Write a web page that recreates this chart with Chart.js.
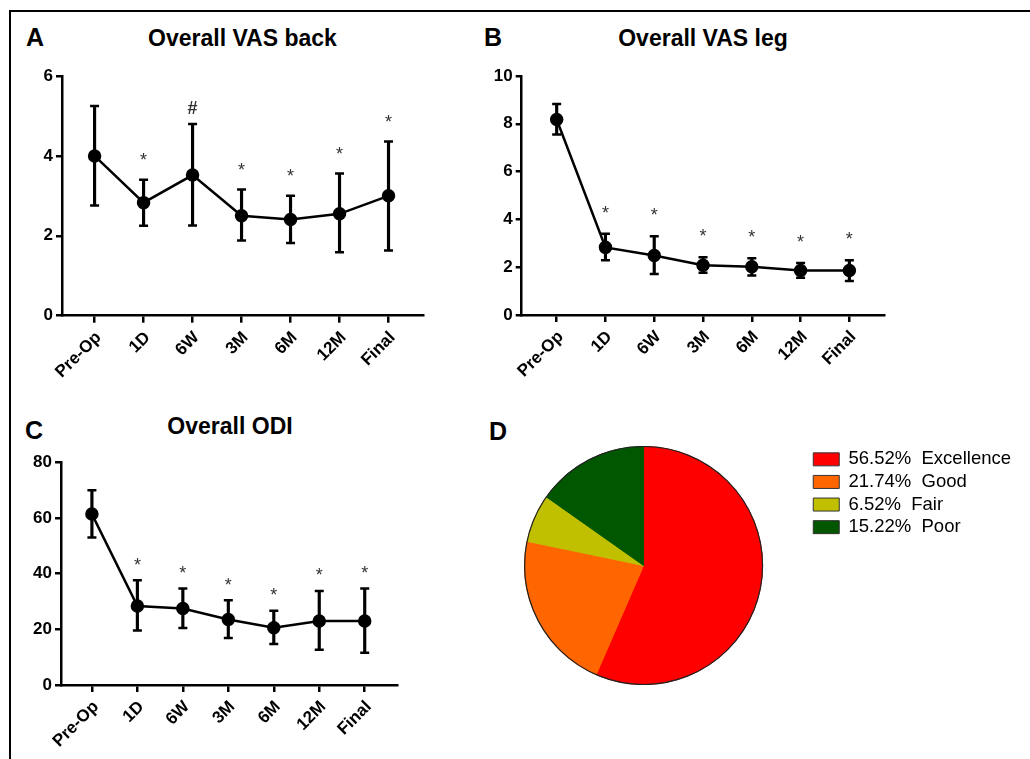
<!DOCTYPE html>
<html>
<head>
<meta charset="utf-8">
<script src="https://cdn.jsdelivr.net/npm/chart.js@4.4.1/dist/chart.umd.min.js"></script>
<style>
    body { margin: 0; width: 1030px; height: 759px; overflow: hidden; background: #fff; position: relative;
           font-family: 'Liberation Sans', Arial, sans-serif; }
    .frame { position: absolute; left: 9px; top: 10px; width: 1100px; height: 800px;
             border-top: 2px solid #000; border-left: 2px solid #000; }
    .txt { position: absolute; font-weight: bold; line-height: 1; white-space: nowrap; color: #000; }
    .letter { font-size: 25px; }
    .title { font-size: 23px; width: 300px; text-align: center; }
    .panel { position: absolute; }
</style>
</head>
<body>
<div class="frame"></div>

<div class="txt letter" style="left:26px; top:24.8px;">A</div>
<div class="txt title" style="left:92.5px; top:26.5px;">Overall VAS back</div>
<div class="txt letter" style="left:484px; top:24.8px;">B</div>
<div class="txt title" style="left:553px; top:26.5px;">Overall VAS leg</div>
<div class="txt letter" style="left:25px; top:418.3px;">C</div>
<div class="txt title" style="left:80px; top:415px;">Overall ODI</div>
<div class="txt letter" style="left:489px; top:419.3px;">D</div>

<canvas id="chartA" class="panel" width="440" height="340" style="left:0px; top:50px;"></canvas>
<canvas id="chartB" class="panel" width="440" height="340" style="left:460px; top:50px;"></canvas>
<canvas id="chartC" class="panel" width="420" height="319" style="left:0px; top:440px;"></canvas>
<canvas id="chartD" class="panel" width="543" height="239" style="left:478px; top:446px;"></canvas>

<script>
Chart.defaults.font.family = "'Liberation Sans', Arial, sans-serif";
Chart.defaults.color = '#000';
Chart.defaults.animation = false;

const timepoints = ['Pre-Op', '1D', '6W', '3M', '6M', '12M', 'Final'];

// A - VAS back (mean and error bar ends)
const vasBackMean  = [4.00, 2.83, 3.52, 2.50, 2.41, 2.55, 3.00];
const vasBackUpper = [5.25, 3.40, 4.80, 3.16, 3.00, 3.56, 4.36];
const vasBackLower = [2.76, 2.25, 2.26, 1.88, 1.82, 1.59, 1.63];
const vasBackMarks = ['', '*', '#', '*', '*', '*', '*'];
const vasBackTicks = [0, 2, 4, 6];

// B - VAS leg
const vasLegMean  = [8.18, 2.83, 2.49, 2.08, 2.02, 1.86, 1.86];
const vasLegUpper = [8.83, 3.40, 3.30, 2.42, 2.37, 2.18, 2.29];
const vasLegLower = [7.55, 2.29, 1.72, 1.77, 1.65, 1.56, 1.42];
const vasLegMarks = ['', '*', '*', '*', '*', '*', '*'];
const vasLegTicks = [0, 2, 4, 6, 8, 10];

// C - ODI
const odiMean  = [61.4, 28.4, 27.5, 23.5, 20.6, 23.0, 23.0];
const odiUpper = [70.0, 37.6, 34.7, 30.4, 26.7, 33.8, 34.7];
const odiLower = [53.0, 19.6, 20.5, 16.9, 14.7, 12.7, 11.6];
const odiMarks = ['', '*', '*', '*', '*', '*', '*'];
const odiTicks = [0, 20, 40, 60, 80];

// D - outcome
const outcomeLabels = ['Excellence', 'Good', 'Fair', 'Poor'];
const outcomeShares = [56.52, 21.74, 6.52, 15.22];
const outcomeColors = ['#ff0000', '#ff6600', '#c0c000', '#005700'];

// draws the * and # above the top of each error bar
const markPlugin = {
    id: 'marks',
    afterDatasetsDraw: function (chart, args, opts) {
        var ctx = chart.ctx, xs = chart.scales.x, ys = chart.scales.y;
        ctx.save();
        ctx.textAlign = 'center';
        ctx.fillStyle = '#333';
        opts.symbols.forEach(function (s, i) {
            if (!s) return;
            var cx = xs.getPixelForValue(i);
            var top = ys.getPixelForValue(opts.upper[i]);
            if (s === '#') {
                ctx.font = "bold 18px 'Liberation Sans', Arial";
                ctx.fillText(s, cx, top - opts.hashGap + 6.3);
            } else {
                ctx.font = "18px 'Liberation Sans', Arial";
                ctx.fillText(s, cx, top - opts.gap + 10.3);
            }
        });
        ctx.restore();
    }
};

function points(values) {
    return values.map(function (v, i) { return {x: i, y: v}; });
}

function errorChart(id, mean, lower, upper, marks, ticks, o) {
    var ctx = document.getElementById(id).getContext('2d');
    return new Chart(ctx, {
        type: 'line',
        data: {
            datasets: [{
                type: 'line',
                data: points(mean),
                borderColor: '#000',
                borderWidth: 2.5,
                pointRadius: 5.5,
                pointBackgroundColor: '#000',
                pointBorderColor: '#000',
                tension: 0,
                order: 0
            }, {
                // vertical part of the error bars
                type: 'bar',
                data: lower.map(function (v, i) { return {x: i, y: [v, upper[i]]}; }),
                backgroundColor: '#000',
                borderWidth: 0,
                barThickness: 2.5,
                grouped: false,
                order: 2
            }, {
                // caps
                type: 'line',
                data: points(lower).concat(points(upper)),
                showLine: false,
                pointStyle: 'line',
                pointRadius: 4.5,
                pointBorderWidth: 2.5,
                pointBorderColor: '#000',
                order: 1
            }]
        },
        options: {
            responsive: false,
            events: [],
            layout: { padding: o.padding },
            scales: {
                x: {
                    type: 'linear',
                    offset: false,
                    min: o.xMin,
                    max: o.xMax,
                    afterFit: function (scale) { scale.height = o.xHeight; },
                    afterBuildTicks: function (scale) {
                        scale.ticks = timepoints.map(function (t, i) { return {value: i}; });
                    },
                    ticks: {
                        autoSkip: false,
                        minRotation: 45,
                        maxRotation: 45,
                        padding: 5,
                        labelOffset: 4,
                        color: '#000',
                        font: { size: 17, weight: 'bold' },
                        callback: function (v) { return timepoints[v]; }
                    },
                    grid: { offset: false, drawOnChartArea: false, color: '#000', lineWidth: 2.5, tickLength: 7 },
                    border: { color: '#000', width: 2.5 }
                },
                y: {
                    min: 0,
                    max: ticks[ticks.length - 1],
                    afterFit: function (scale) { scale.width = o.yWidth; },
                    afterBuildTicks: function (scale) {
                        scale.ticks = ticks.map(function (v) { return {value: v}; });
                    },
                    ticks: {
                        padding: 3,
                        color: '#000',
                        font: { size: 17, weight: 'bold' }
                    },
                    grid: { drawOnChartArea: false, color: '#000', lineWidth: 2.5, tickLength: 6 },
                    border: { color: '#000', width: 2.5 }
                }
            },
            plugins: {
                legend: { display: false },
                tooltip: { enabled: false },
                marks: { symbols: marks, upper: upper, gap: o.gap, hashGap: 16 }
            }
        },
        plugins: [markPlugin]
    });
}

errorChart('chartA', vasBackMean, vasBackLower, vasBackUpper, vasBackMarks, vasBackTicks, {
    xMin: -0.665, xMax: 6.71, yWidth: 62, xHeight: 74.3, gap: 24,
    padding: {top: 26, right: 16.7, bottom: 0, left: 0}
});

errorChart('chartB', vasLegMean, vasLegLower, vasLegUpper, vasLegMarks, vasLegTicks, {
    xMin: -0.717, xMax: 6.71, yWidth: 61.7, xHeight: 75, gap: 25.5,
    padding: {top: 26, right: 16, bottom: 0, left: 0}
});

errorChart('chartC', odiMean, odiLower, odiUpper, odiMarks, odiTicks, {
    xMin: -0.68, xMax: 6.71, yWidth: 61, xHeight: 74, gap: 20,
    padding: {top: 22.3, right: 23, bottom: 0, left: 0}
});

// thin dark ring around the pie, no lines between the slices
const outlinePlugin = {
    id: 'outline',
    afterDatasetsDraw: function (chart) {
        var arc = chart.getDatasetMeta(0).data[0];
        var ctx = chart.ctx;
        ctx.save();
        ctx.beginPath();
        ctx.arc(arc.x, arc.y, arc.outerRadius, 0, Math.PI * 2);
        ctx.strokeStyle = '#222';
        ctx.lineWidth = 1.2;
        ctx.stroke();
        ctx.restore();
    }
};

new Chart(document.getElementById('chartD').getContext('2d'), {
    type: 'pie',
    data: {
        labels: outcomeLabels,
        datasets: [{
            data: outcomeShares,
            backgroundColor: outcomeColors,
            borderColor: outcomeColors,
            borderWidth: 1
        }]
    },
    options: {
        responsive: false,
        events: [],
        layout: { padding: 0 },
        plugins: {
            tooltip: { enabled: false },
            legend: {
                position: 'right',
                align: 'start',
                labels: {
                    boxWidth: 26,
                    boxHeight: 13,
                    padding: 4.1,
                    color: '#1a1a1a',
                    font: { size: 18.5 },
                    generateLabels: function () {
                        return outcomeLabels.map(function (l, i) {
                            return {
                                text: outcomeShares[i].toFixed(2) + '%  ' + l,
                                fillStyle: outcomeColors[i],
                                strokeStyle: '#333',
                                lineWidth: 1,
                                hidden: false,
                                index: i
                            };
                        });
                    }
                }
            }
        }
    },
    plugins: [outlinePlugin]
});
</script>
</body>
</html>
